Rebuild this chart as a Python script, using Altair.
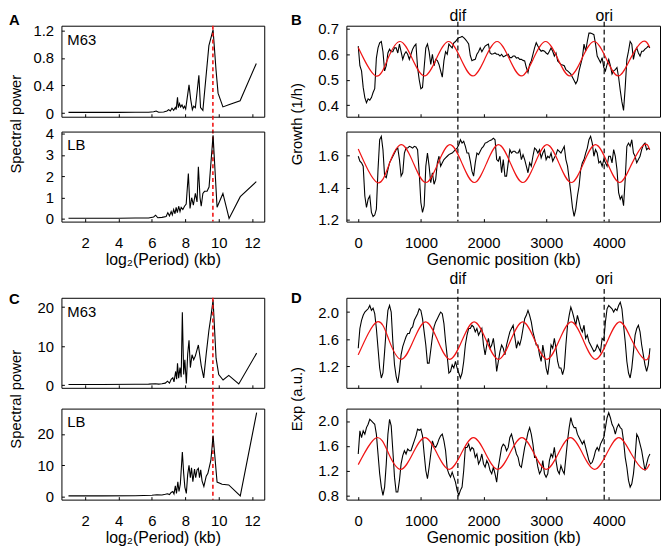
import altair as alt
import pandas as pd

FONT = "Liberation Sans"
RED = "#f01414"

# ---------------- Spectral power (log2 period) ----------------
a_m63_x = [1.0, 2.0, 3.0, 4.0, 5.0, 5.8, 6.1, 6.25, 6.4, 6.7, 6.9, 7.0, 7.1, 7.2, 7.3, 7.4, 7.45, 7.53, 7.58,
           7.65, 7.72, 7.8, 7.88, 7.95, 8.02, 8.1, 8.22, 8.32, 8.42, 8.5, 8.6, 8.7, 8.81, 8.91, 9.05, 9.41,
           9.66, 9.84, 9.96, 10.25, 10.6, 11.28, 12.25]
a_m63_y = [0.01, 0.01, 0.01, 0.01, 0.012, 0.012, 0.02, 0.03, 0.012, 0.015, 0.03, 0.05, 0.03, 0.07, 0.04, 0.08,
           0.05, 0.23, 0.08, 0.14, 0.09, 0.12, 0.07, 0.1, 0.06, 0.2, 0.41, 0.2, 0.05, 0.1, 0.08, 0.3, 0.55, 0.08,
           0.04, 0.98, 1.21, 0.62, 0.29, 0.09, 0.12, 0.18, 0.72]

a_lb_x = [1.0, 2.0, 3.0, 4.0, 5.0, 5.8, 6.1, 6.22, 6.35, 6.6, 6.85, 6.95, 7.05, 7.15, 7.22, 7.3, 7.38, 7.45,
          7.52, 7.6, 7.68, 7.75, 7.85, 7.95, 8.05, 8.18, 8.28, 8.38, 8.48, 8.6, 8.7, 8.78, 8.88, 8.95, 9.05,
          9.15, 9.3, 9.42, 9.66, 9.9, 10.25, 10.62, 11.29, 12.25]
a_lb_y = [0.04, 0.04, 0.04, 0.04, 0.05, 0.05, 0.1, 0.18, 0.06, 0.08, 0.12, 0.3, 0.15, 0.35, 0.2, 0.45, 0.25,
          0.55, 0.3, 0.6, 0.35, 0.55, 0.45, 0.6, 0.7, 2.13, 0.5, 1.0, 0.65, 1.2, 0.8, 2.45, 1.0, 0.6, 1.2, 1.3,
          1.3, 1.5, 3.93, 0.55, 1.2, 0.03, 1.05, 1.75]

c_m63_x = [1.0, 3.0, 5.0, 5.8, 6.2, 6.4, 6.6, 6.8, 6.93, 7.05, 7.15, 7.25, 7.32, 7.42, 7.48, 7.53, 7.6, 7.68,
           7.75, 7.82, 7.9, 7.97, 8.06, 8.14, 8.22, 8.3, 8.4, 8.5, 8.6, 8.78, 8.95, 9.1, 9.25, 9.41, 9.53,
           9.66, 9.84, 10.0, 10.26, 10.6, 11.2, 12.27]
c_m63_y = [0.15, 0.15, 0.2, 0.25, 0.35, 0.25, 0.35, 0.5, 1.0, 0.5, 1.5, 1.9, 0.8, 3.5, 1.5, 5.6, 1.8, 4.5,
           2.0, 18.7, 2.7, 6.5, 0.4, 8.0, 11.5, 4.5, 7.8, 6.5, 7.5, 10.3, 5.0, 1.85, 8.0, 14.0, 17.5, 21.8,
           6.9, 2.7, 1.3, 2.5, 0.3, 8.2]

c_lb_x = [1.0, 3.0, 5.0, 6.0, 6.3, 6.6, 6.8, 6.93, 7.05, 7.15, 7.25, 7.32, 7.4, 7.47, 7.55, 7.62, 7.7, 7.82,
          7.9, 7.97, 8.06, 8.14, 8.22, 8.3, 8.37, 8.45, 8.55, 8.62, 8.7, 8.78, 8.85, 8.92, 9.0, 9.11, 9.25,
          9.35, 9.53, 9.66, 9.9, 10.2, 10.6, 11.29, 12.27]
c_lb_y = [0.2, 0.2, 0.25, 0.4, 0.55, 0.5, 0.7, 0.85, 0.6, 1.3, 1.6, 0.8, 3.4, 1.0, 4.7, 1.6, 4.0, 14.2, 7.4,
          3.0, 1.0, 7.0, 10.0, 6.0, 9.2, 4.7, 8.8, 6.0, 8.5, 9.0, 6.0, 8.5, 5.0, 3.2, 6.5, 7.4, 11.6, 19.5,
          4.6, 3.9, 3.7, 0.2, 26.8]

peak_period_log2 = [9.65]

# ---------------- Genomic profiles (bins of ~26 kb) ----------------
GENOME_STEP_KB = 26.3
b_m63 = [0.632, 0.555, 0.535, 0.47, 0.43, 0.41, 0.425, 0.42, 0.43, 0.45,
         0.465, 0.585, 0.625, 0.645, 0.65, 0.61, 0.535, 0.555, 0.605, 0.62,
         0.61, 0.61, 0.625, 0.625, 0.605, 0.64, 0.61, 0.58, 0.6, 0.61,
         0.6, 0.58, 0.6, 0.62, 0.632, 0.64, 0.548, 0.5, 0.465, 0.47,
         0.548, 0.625, 0.64, 0.61, 0.56, 0.6, 0.555, 0.58, 0.575, 0.56,
         0.535, 0.51, 0.575, 0.61, 0.6, 0.64, 0.632, 0.625, 0.645, 0.65,
         0.658, 0.665, 0.667, 0.67, 0.665, 0.658, 0.65, 0.64, 0.595, 0.575,
         0.578, 0.58, 0.6, 0.61, 0.625, 0.61, 0.622, 0.632, 0.636, 0.64,
         0.605, 0.6, 0.602, 0.605, 0.6, 0.6, 0.593, 0.6, 0.59, 0.593,
         0.597, 0.6, 0.587, 0.587, 0.593, 0.593, 0.585, 0.587, 0.58, 0.58,
         0.576, 0.574, 0.548, 0.529, 0.56, 0.574, 0.6, 0.625, 0.645, 0.632,
         0.62, 0.612, 0.615, 0.612, 0.605, 0.6, 0.612, 0.625, 0.612, 0.593,
         0.605, 0.574, 0.567, 0.56, 0.558, 0.555, 0.54, 0.535, 0.529, 0.522,
         0.51, 0.497, 0.484, 0.497, 0.535, 0.56, 0.587, 0.64, 0.612, 0.65,
         0.683, 0.683, 0.68, 0.677, 0.64, 0.593, 0.58, 0.567, 0.587, 0.548,
         0.535, 0.56, 0.58, 0.555, 0.522, 0.535, 0.54, 0.548, 0.51, 0.458,
         0.413, 0.38, 0.47, 0.58, 0.612, 0.65, 0.64, 0.58, 0.612, 0.625,
         0.605, 0.593, 0.612, 0.612, 0.62, 0.625, 0.632, 0.625]
b_lb = [1.596, 1.565, 1.555, 1.534, 1.348, 1.276, 1.328, 1.348, 1.245, 1.22,
        1.229, 1.266, 1.513, 1.699, 1.72, 1.637, 1.472, 1.462, 1.513, 1.555,
        1.575, 1.596, 1.616, 1.637, 1.647, 1.575, 1.472, 1.493, 1.616, 1.647,
        1.647, 1.658, 1.654, 1.647, 1.658, 1.654, 1.637, 1.493, 1.307, 1.245,
        1.287, 1.534, 1.616, 1.534, 1.431, 1.493, 1.421, 1.452, 1.555, 1.596,
        1.534, 1.555, 1.575, 1.586, 1.596, 1.606, 1.612, 1.616, 1.627, 1.637,
        1.647, 1.668, 1.699, 1.678, 1.689, 1.658, 1.616, 1.616, 1.565, 1.503,
        1.472, 1.555, 1.616, 1.606, 1.627, 1.647, 1.658, 1.678, 1.682, 1.689,
        1.695, 1.699, 1.709, 1.699, 1.575, 1.565, 1.596, 1.493, 1.575, 1.472,
        1.472, 1.555, 1.637, 1.616, 1.627, 1.627, 1.616, 1.616, 1.637, 1.575,
        1.606, 1.575, 1.534, 1.493, 1.555, 1.534, 1.596, 1.647, 1.637, 1.616,
        1.637, 1.586, 1.616, 1.637, 1.575, 1.596, 1.586, 1.616, 1.565, 1.586,
        1.606, 1.637, 1.627, 1.616, 1.637, 1.658, 1.575, 1.534, 1.452, 1.369,
        1.276, 1.22, 1.266, 1.348, 1.41, 1.513, 1.555, 1.575, 1.616, 1.647,
        1.699, 1.72, 1.678, 1.596, 1.637, 1.616, 1.555, 1.565, 1.534, 1.575,
        1.555, 1.534, 1.596, 1.596, 1.555, 1.637, 1.596, 1.513, 1.369, 1.328,
        1.348, 1.287, 1.452, 1.658, 1.678, 1.658, 1.699, 1.616, 1.596, 1.555,
        1.575, 1.596, 1.637, 1.668, 1.678, 1.637, 1.647, 1.637]
d_m63 = [1.467, 1.758, 1.879, 1.952, 2.0, 2.024, 2.048, 2.097, 2.024, 2.058,
         1.976, 1.758, 1.467, 1.176, 1.03, 1.103, 1.418, 1.758, 2.024, 2.097,
         2.0, 1.564, 1.224, 1.055, 0.958, 1.127, 1.37, 1.491, 1.564, 1.636,
         1.685, 1.685, 1.758, 1.782, 1.879, 1.927, 1.976, 2.048, 2.024, 1.903,
         1.709, 1.515, 1.248, 1.248, 1.442, 1.636, 1.782, 1.855, 1.903, 1.952,
         2.0, 1.976, 1.83, 1.564, 1.345, 1.103, 1.127, 1.224, 1.176, 1.273,
         1.176, 1.103, 1.03, 1.103, 1.273, 1.515, 1.661, 1.758, 1.758, 1.806,
         1.782, 1.709, 1.758, 1.661, 1.709, 1.758, 1.515, 1.37, 1.515, 1.612,
         1.467, 1.515, 1.612, 1.418, 1.127, 1.273, 1.418, 1.515, 1.467, 1.37,
         1.515, 1.612, 1.709, 1.758, 1.806, 1.636, 1.467, 1.564, 1.515, 1.612,
         1.758, 1.903, 1.952, 2.024, 1.952, 1.855, 1.709, 1.612, 1.515, 1.515,
         1.37, 1.273, 1.515, 1.37, 1.176, 1.079, 1.273, 1.515, 1.467, 1.612,
         1.467, 1.273, 1.176, 1.176, 1.079, 1.176, 1.515, 1.806, 1.952, 2.073,
         2.0, 1.903, 1.806, 1.952, 1.855, 1.758, 1.709, 1.806, 1.612, 1.661,
         1.564, 1.515, 1.467, 1.418, 1.442, 1.515, 1.467, 1.418, 1.612, 1.588,
         1.855, 2.048, 2.097, 2.073, 2.048, 2.0, 2.048, 2.024, 2.097, 2.145,
         2.048, 1.806, 1.564, 1.273, 1.103, 1.03, 1.176, 1.418, 1.661, 1.758,
         1.806, 1.709, 1.515, 1.37, 1.224, 1.127, 1.224, 1.467]
d_lb = [1.467, 1.84, 1.733, 1.84, 1.787, 1.893, 1.947, 2.027, 2.0, 1.973,
        1.947, 1.787, 1.467, 1.147, 0.933, 0.8, 0.933, 1.307, 1.787, 2.027,
        1.92, 1.52, 1.093, 0.853, 0.853, 1.04, 1.307, 1.44, 1.52, 1.467,
        1.547, 1.52, 1.52, 1.6, 1.68, 1.76, 1.867, 1.85, 1.867, 1.76,
        1.467, 1.2, 1.067, 1.253, 1.467, 1.68, 1.6, 1.573, 1.627, 1.707,
        1.76, 1.787, 1.68, 1.52, 1.227, 1.147, 1.093, 1.173, 1.093, 1.013,
        0.88, 0.8, 0.88, 0.933, 1.2, 1.573, 1.573, 1.627, 1.52, 1.573,
        1.547, 1.413, 1.467, 1.307, 1.36, 1.467, 1.307, 1.253, 1.36, 1.307,
        1.2, 1.147, 1.253, 1.147, 1.013, 1.253, 1.413, 1.573, 1.627, 1.6,
        1.52, 1.573, 1.733, 1.787, 1.68, 1.573, 1.467, 1.413, 1.28, 1.253,
        1.413, 1.573, 1.68, 1.813, 1.893, 1.787, 1.627, 1.413, 1.413, 1.253,
        1.147, 1.2, 1.36, 1.147, 1.093, 1.147, 1.36, 1.467, 1.413, 1.573,
        1.36, 1.2, 1.147, 1.28, 1.2, 1.147, 1.413, 1.68, 1.893, 2.053,
        1.947, 1.893, 1.893, 1.787, 1.733, 1.68, 1.627, 1.68, 1.573, 1.467,
        1.36, 1.307, 1.333, 1.413, 1.52, 1.573, 1.52, 1.627, 1.68, 1.733,
        1.893, 2.053, 2.133, 2.053, 1.947, 1.893, 1.787, 1.893, 1.947, 1.893,
        1.867, 1.68, 1.413, 1.253, 1.04, 0.933, 0.987, 1.147, 1.413, 1.787,
        1.733, 1.627, 1.52, 1.36, 1.2, 1.307, 1.413, 1.467]
genome_kb = [round(i * GENOME_STEP_KB, 1) for i in range(len(b_m63))]

b_m63_fit_x = [0, 281, 474, 668, 861, 1055, 1248, 1442, 1635, 1829, 2022, 2216, 2409, 2603, 2796, 2990,
               3183, 3377, 3570, 3764, 3957, 4151, 4344, 4538, 4650]
b_m63_fit_y = [0.627, 0.515, 0.583, 0.65, 0.583, 0.515, 0.583, 0.65, 0.583, 0.515, 0.583, 0.65, 0.583,
               0.515, 0.583, 0.65, 0.583, 0.515, 0.583, 0.65, 0.583, 0.515, 0.583, 0.65, 0.628]
b_lb_fit_x = [0, 303, 497, 690, 884, 1077, 1271, 1464, 1658, 1851, 2045, 2238, 2432, 2625, 2819, 3012,
              3206, 3399, 3593, 3786, 3980, 4173, 4367, 4560, 4650]
b_lb_fit_y = [1.641, 1.432, 1.55, 1.668, 1.55, 1.432, 1.55, 1.668, 1.55, 1.432, 1.55, 1.668, 1.55, 1.432,
              1.55, 1.668, 1.55, 1.432, 1.55, 1.668, 1.55, 1.432, 1.55, 1.668, 1.638]
d_m63_fit_x = [0, 300, 494, 687, 881, 1075, 1269, 1462, 1656, 1850, 2044, 2237, 2431, 2625, 2819, 3012,
               3206, 3400, 3594, 3787, 3981, 4175, 4369, 4562, 4650]
d_m63_fit_y = [1.37, 1.855, 1.58, 1.305, 1.58, 1.855, 1.58, 1.305, 1.58, 1.855, 1.58, 1.305, 1.58, 1.855,
               1.58, 1.305, 1.58, 1.855, 1.58, 1.305, 1.58, 1.855, 1.58, 1.305, 1.372]
d_lb_fit_x = [0, 290, 484, 677, 871, 1064, 1258, 1451, 1645, 1838, 2032, 2225, 2419, 2612, 2806, 2999,
              3193, 3386, 3580, 3773, 3967, 4160, 4354, 4547, 4650]
d_lb_fit_y = [1.295, 1.73, 1.475, 1.22, 1.475, 1.73, 1.475, 1.22, 1.475, 1.73, 1.475, 1.22, 1.475, 1.73,
              1.475, 1.22, 1.475, 1.73, 1.475, 1.22, 1.475, 1.73, 1.475, 1.22, 1.304]

marker_names = ["dif", "ori"]
marker_kb = [1590, 3925]

# ---------------- layout constants ----------------
A_W, B_W = 205, 317
A_XDOM = [0.578, 12.726]
B_XDOM = [-189.5, 4816]
ROW1 = (92, 15, 91)
ROW2 = (91, 21, 92)
ROW_GAP = 77
COL_GAP = 83
FRAME = alt.ViewBackground(stroke="black", strokeWidth=1, strokeOpacity=1)


def axis_x(values, show_labels, fmt, title=None):
    kw = dict(values=values, format=fmt, grid=False, domain=False, ticks=True, tickSize=3,
              tickColor="black", tickWidth=1, offset=-3, labels=show_labels, labelFont=FONT,
              labelFontSize=15, labelColor="black", labelPadding=14, labelFlush=False,
              labelOverlap=False)
    if title:
        kw.update(title=title, titleFont=FONT, titleFontSize=16, titleFontWeight="normal",
                  titleColor="black", titleY=46, titleBaseline="alphabetic")
    else:
        kw["title"] = None
    return alt.Axis(**kw)


def axis_y(values, fmt, title=None, title_x=0, title_y=0):
    kw = dict(values=values, format=fmt, grid=False, domain=False, ticks=True, tickSize=3,
              tickColor="black", tickWidth=1, offset=-3, labelFont=FONT, labelFontSize=15,
              labelColor="black", labelPadding=8, labelOverlap=False)
    if title:
        kw.update(title=title, titleFont=FONT, titleFontSize=15, titleFontWeight="normal",
                  titleColor="black", titleX=title_x, titleY=title_y, titleAngle=270,
                  titleAlign="center", titleBaseline="middle")
    else:
        kw["title"] = None
    return alt.Axis(**kw)


def label_layer(text, x, y, size=15, bold=False, align="left"):
    df = pd.DataFrame({"label": [text]})
    return alt.Chart(df).mark_text(font=FONT, fontSize=size, fontWeight="bold" if bold else "normal",
                                   align=align, baseline="alphabetic", color="black").encode(
        x=alt.value(x), y=alt.value(y), text="label:N")


def spectral_panel(xs, ys, ydom, yticks, yfmt, h, medium, bottom, ytitle=None, title_y=0,
                   letter=None, letter_y=0, rule_len=0):
    X = alt.X("x:Q", scale=alt.Scale(domain=A_XDOM, nice=False, zero=False),
              axis=axis_x([2, 4, 6, 8, 10, 12], bottom, "d",
                          "log\u2082(Period) (kb)" if bottom else None))
    Y = alt.Y("y:Q", scale=alt.Scale(domain=ydom, nice=False, zero=False),
              axis=axis_y(yticks, yfmt, ytitle, -49, title_y))
    df = pd.DataFrame({"x": xs, "y": ys})
    layers = [alt.Chart(df).mark_line(color="black", strokeWidth=1.1).encode(x=X, y=Y)]
    if rule_len:
        rd = pd.DataFrame({"x": peak_period_log2})
        layers.append(alt.Chart(rd).mark_rule(color=RED, strokeDash=[4, 3], strokeWidth=1.6).encode(
            x=X, y=alt.value(0), y2=alt.value(rule_len)))
    layers.append(label_layer(medium, 6, 19))
    if letter:
        layers.append(label_layer(letter, -53, letter_y, bold=True))
    return alt.layer(*layers).properties(width=A_W, height=h, view=FRAME)


def genome_panel(vals, fit_x, fit_y, ydom, yticks, h, bottom, ytitle=None, title_y=0,
                 letter=None, letter_y=0, rule_top=0, rule_len=0, mark_y=0):
    X = alt.X("x:Q", scale=alt.Scale(domain=B_XDOM, nice=False, zero=False),
              axis=axis_x([0, 1000, 2000, 3000, 4000], bottom, "d",
                          "Genomic position (kb)" if bottom else None))
    Y = alt.Y("y:Q", scale=alt.Scale(domain=ydom, nice=False, zero=False),
              axis=axis_y(yticks, ".1f", ytitle, -53, title_y))
    df = pd.DataFrame({"x": genome_kb, "y": vals})
    fit = pd.DataFrame({"x": fit_x, "y": fit_y})
    layers = []
    if rule_len:
        md = pd.DataFrame({"x": marker_kb, "label": marker_names})
        layers.append(alt.Chart(md).mark_rule(color="black", strokeDash=[5, 3], strokeWidth=1.2).encode(
            x=X, y=alt.value(rule_top), y2=alt.value(rule_len)))
        layers.append(alt.Chart(md).mark_text(font=FONT, fontSize=16, align="center",
                                              baseline="alphabetic", color="black").encode(
            x=X, y=alt.value(mark_y), text="label:N"))
    layers.append(alt.Chart(df).mark_line(color="black", strokeWidth=1.1).encode(x=X, y=Y))
    layers.append(alt.Chart(fit).mark_line(color=RED, strokeWidth=1.2, interpolate="natural").encode(x=X, y=Y))
    if letter:
        layers.append(label_layer(letter, -56, letter_y, bold=True))
    return alt.layer(*layers).properties(width=B_W, height=h, view=FRAME)


def spacer(w, h):
    df = pd.DataFrame({"s": [""]})
    return alt.Chart(df).mark_text().encode(text="s:N").properties(
        width=w, height=h, view=alt.ViewBackground(strokeOpacity=0, fillOpacity=0))


r1t, r1g, r1b = ROW1
r2t, r2g, r2b = ROW2
mid1 = (r1t + r1g + r1b) / 2
mid2 = (r2t + r2g + r2b) / 2

A_top = spectral_panel(a_m63_x, a_m63_y, [-0.053, 1.27], [0, 0.4, 0.8, 1.2], ".1~f", r1t, "M63", False,
                       "Spectral power", mid1, "A", -1, r1t + r1g + r1b)
A_bot = spectral_panel(a_lb_x, a_lb_y, [-0.12, 4.1], [0, 1, 2, 3, 4], "d", r1b, "LB", True)
B_top = genome_panel(b_m63, b_m63_fit_x, b_m63_fit_y, [0.355, 0.712], [0.4, 0.5, 0.6, 0.7], r1t, False,
                     "Growth (1/h)", mid1, "B", -1, -4, r1t + r1g + r1b, -5)
B_bot = genome_panel(b_lb, b_lb_fit_x, b_lb_fit_y, [1.188, 1.75], [1.2, 1.4, 1.6], r1b, True)

C_top = spectral_panel(c_m63_x, c_m63_y, [-0.7, 22.4], [0, 10, 20], "d", r2t, "M63", False,
                       "Spectral power", mid2, "C", 6, r2t + r2g + r2b)
C_bot = spectral_panel(c_lb_x, c_lb_y, [-1.0, 28.1], [0, 10, 20], "d", r2b, "LB", True)
D_top = genome_panel(d_m63, d_m63_fit_x, d_m63_fit_y, [0.885, 2.21], [1.2, 1.6, 2.0], r2t, False,
                     "Exp (a.u.)", mid2, "D", 5, -9, r2t + r2g + r2b, -14)
D_bot = genome_panel(d_lb, d_lb_fit_x, d_lb_fit_y, [0.73, 2.2], [0.8, 1.2, 1.6, 2.0], r2b, True)

cells = [
    A_top, B_top,
    spacer(10, r1g), spacer(10, r1g),
    A_bot, B_bot,
    spacer(10, ROW_GAP), spacer(10, ROW_GAP),
    C_top, D_top,
    spacer(10, r2g), spacer(10, r2g),
    C_bot, D_bot,
]

chart = alt.concat(*cells, columns=2, bounds="flush", align="each",
                   spacing=alt.RowColnumber(row=0, column=COL_GAP)).properties(
    padding={"top": -4, "left": 0, "right": 0, "bottom": 0}, background="white"
).configure(font=FONT)

chart.save("out.html", embed_options={"renderer": "svg", "actions": False})
